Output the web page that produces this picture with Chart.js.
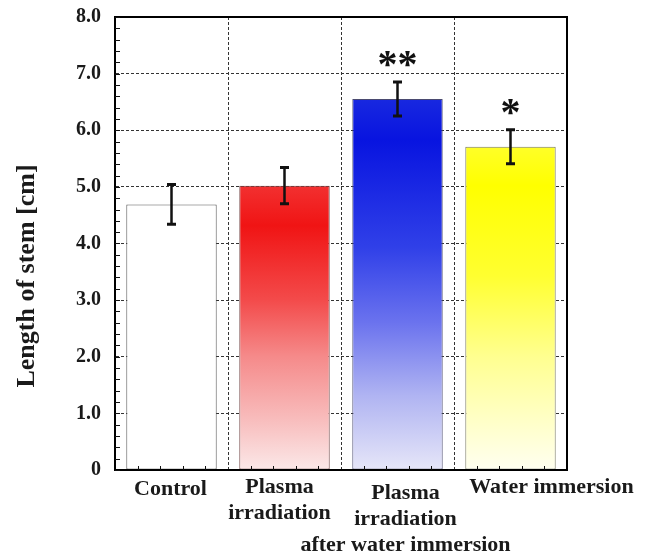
<!DOCTYPE html>
<html>
<head>
<meta charset="utf-8">
<script src="https://cdn.jsdelivr.net/npm/chart.js@4"></script>
<style>
  html, body { margin: 0; padding: 0; background: #fff; }
  #wrap { width: 654px; height: 558px; }
</style>
</head>
<body>
<div id="wrap"><canvas id="c" width="654" height="558"></canvas></div>
<script>
// ---- data ----
const categories = ['Control', ['Plasma', 'irradiation'], ['Plasma', 'irradiation', 'after water immersion'], 'Water immersion'];
const stemLength = [4.69, 5.02, 6.55, 5.71];
const stemError = [0.35, 0.32, 0.30, 0.30];
const significance = ['', '', '**', '*'];
const yMin = 0, yMax = 8, yStep = 1;
const yTitle = 'Length of stem [cm]';

// ---- styles ----
const gradientStops = [
  [[0, '#ffffff'], [1, '#ffffff']],
  [[0, '#f23030'], [0.14, '#f01414'], [0.4, '#f34a4a'], [0.6, '#f58a8a'], [0.82, '#f8bcbc'], [1, '#fbe8e8']],
  [[0, '#1828e0'], [0.11, '#0814e0'], [0.4, '#3040e8'], [0.6, '#6a72ee'], [0.8, '#b0b4f2'], [1, '#e6e6f8']],
  [[0, '#ffff28'], [0.12, '#ffff00'], [0.4, '#ffff30'], [0.65, '#ffff90'], [0.85, '#ffffc8'], [1, '#fffff0']]
];
const labelShiftX = [-1, -5, 8, 41];   // horizontal nudge of x labels (px)
const labelShiftY = [0, -2, 4, -2];
const FONT = "'Liberation Serif', 'Times New Roman', serif";
const TEXT = '#1a1a1a';
const X_FONT_SIZE = 22, X_LINE = 26;

const decorations = {
  id: 'decorations',
  afterDatasetsDraw(chart) {
    const { ctx, chartArea: a, scales } = chart;
    const y = scales.y, x = scales.x;
    ctx.save();
    // frame
    ctx.strokeStyle = '#000';
    ctx.lineWidth = 2;
    ctx.strokeRect(a.left, a.top, a.right - a.left, a.bottom - a.top);
    // minor ticks on y axis (every 0.2)
    ctx.lineWidth = 1;
    ctx.strokeStyle = '#111';
    ctx.beginPath();
    for (let v = yMin; v <= yMax + 1e-9; v += 0.2) {
      const py = Math.round(y.getPixelForValue(v)) + 0.5;
      ctx.moveTo(a.left, py); ctx.lineTo(a.left + 5, py);
    }
    // minor ticks on x axis (5 subdivisions per category)
    const n = categories.length;
    const cw = (a.right - a.left) / n;
    for (let i = 0; i < n; i++) {
      for (let k = 1; k < 5; k++) {
        const px = Math.round(a.left + (i + k / 5) * cw) + 0.5;
        ctx.moveTo(px, a.bottom); ctx.lineTo(px, a.bottom - 4);
      }
    }
    ctx.stroke();

    // error bars and significance marks
    const meta = chart.getDatasetMeta(0);
    ctx.strokeStyle = '#111';
    meta.data.forEach((bar, i) => {
      const v = stemLength[i], e = stemError[i];
      const top = y.getPixelForValue(v + e);
      const bot = y.getPixelForValue(v - e);
      const cx = bar.x;
      ctx.lineWidth = 2.5;
      ctx.beginPath();
      ctx.moveTo(cx, top); ctx.lineTo(cx, bot);
      ctx.stroke();
      ctx.lineWidth = 3;
      ctx.beginPath();
      ctx.moveTo(cx - 4.5, top); ctx.lineTo(cx + 4.5, top);
      ctx.moveTo(cx - 4.5, bot); ctx.lineTo(cx + 4.5, bot);
      ctx.stroke();
      if (significance[i]) {
        ctx.fillStyle = '#111';
        ctx.font = "bold 40px " + FONT;
        ctx.textAlign = 'center';
        ctx.textBaseline = 'alphabetic';
        ctx.fillText(significance[i], cx, top - 5);
      }
    });

    // category labels
    ctx.fillStyle = TEXT;
    ctx.font = 'bold ' + X_FONT_SIZE + 'px ' + FONT;
    ctx.textAlign = 'center';
    ctx.textBaseline = 'alphabetic';
    categories.forEach((lab, i) => {
      const lines = Array.isArray(lab) ? lab : [lab];
      const cx = x.getPixelForValue(i) + labelShiftX[i];
      lines.forEach((t, j) => {
        ctx.fillText(t, cx, a.bottom + 25 + labelShiftY[i] + j * X_LINE);
      });
    });
    ctx.restore();
  }
};

new Chart(document.getElementById('c'), {
  type: 'bar',
  data: {
    labels: categories,
    datasets: [{
      data: stemLength,
      backgroundColor: (c) => {
        const chart = c.chart;
        if (!chart.chartArea || c.type !== 'data') return '#ffffff';
        const y = chart.scales.y;
        const top = y.getPixelForValue(c.raw);
        const bottom = y.getPixelForValue(0);
        const g = chart.ctx.createLinearGradient(0, top, 0, bottom);
        gradientStops[c.dataIndex].forEach(([o, col]) => g.addColorStop(o, col));
        return g;
      },
      borderColor: ['#555555', '#6a3a3a', '#4a4a70', '#777760'],
      borderWidth: 1,
      borderSkipped: false,
      barPercentage: 1.0,
      categoryPercentage: 0.8
    }]
  },
  plugins: [decorations],
  options: {
    responsive: false,
    animation: false,
    devicePixelRatio: 1,
    layout: { padding: { top: 17, right: 87, left: 0, bottom: 0 } },
    plugins: { legend: { display: false }, tooltip: { enabled: false } },
    scales: {
      x: {
        afterFit(s) { s.height = 88; s.paddingTop = 0; },
        grid: { display: true, offset: true, drawTicks: false, color: '#333', lineWidth: 1 },
        border: { display: true, color: '#000', width: 2, dash: [3, 2] },
        ticks: { display: false },
      },
      y: {
        min: yMin, max: yMax,
        afterFit(s) { s.width = 115; s.paddingTop = 0; s.paddingBottom = 0; },
        grid: { drawTicks: false, color: '#333', lineWidth: 1 },
        border: { display: true, color: '#000', width: 2, dash: [3, 2] },
        ticks: {
          stepSize: yStep, padding: 14, color: TEXT,
          font: { family: FONT, size: 20, weight: 'bold' },
          callback: (v) => v === 0 ? '0' : v.toFixed(1)
        },
        title: {
          display: true, text: yTitle + '\u00a0'.repeat(10), color: TEXT,
          font: { family: FONT, size: 26, weight: 'bold' },
          padding: { top: 12, bottom: 0 }
        }
      }
    }
  }
});
</script>
</body>
</html>
